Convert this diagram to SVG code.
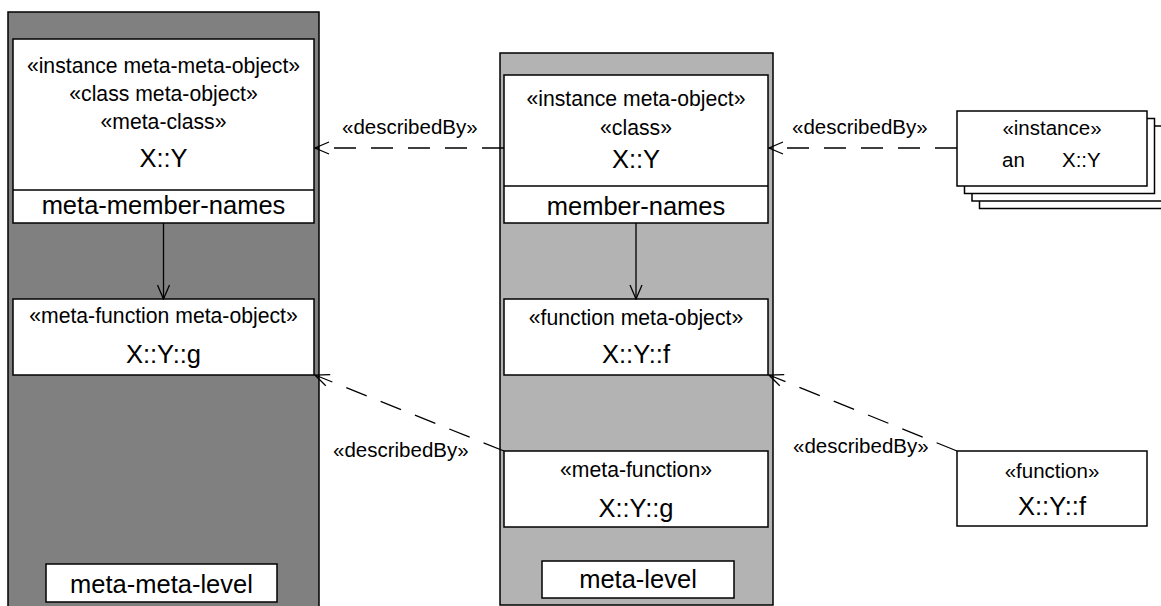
<svg xmlns="http://www.w3.org/2000/svg" width="1161" height="606" viewBox="0 0 1161 606">
<defs>
<style>
.box{fill:#fff;stroke:#000;stroke-width:1.5}
.st{font-family:"Liberation Sans",Arial,sans-serif;font-size:21.2px;text-anchor:middle;fill:#000}
.nm{font-family:"Liberation Sans",Arial,sans-serif;font-size:25.5px;text-anchor:middle;fill:#000}
.lbl{font-family:"Liberation Sans",Arial,sans-serif;font-size:20.5px;fill:#000}
.dep{fill:none;stroke:#000;stroke-width:1.3;stroke-dasharray:22,15}
.ln{fill:none;stroke:#000;stroke-width:1.3}
</style>
<marker id="open" viewBox="0 0 16 14" markerWidth="16" markerHeight="14" refX="15" refY="7" orient="auto" markerUnits="userSpaceOnUse">
<path d="M1,1 L15,7 L1,13" fill="none" stroke="#000" stroke-width="1.3"/>
</marker>
</defs>
<rect width="1161" height="606" fill="#fff"/>

<g id="meta-meta-level-panel">
<rect x="8" y="12" width="311" height="600" fill="#808080" stroke="#000" stroke-width="1.5"/>
</g>
<g id="meta-level-panel">
<rect x="500" y="53" width="273" height="552" fill="#b3b3b3" stroke="#000" stroke-width="1.5"/>
</g>

<g id="meta-class">
<rect class="box" x="13" y="39" width="301" height="184"/>
<line x1="13" y1="190" x2="314" y2="190" stroke="#000" stroke-width="1.5"/>
<text class="st" x="163.5" y="73">«instance meta-meta-object»</text>
<text class="st" x="163.5" y="101">«class meta-object»</text>
<text class="st" x="163.5" y="129">«meta-class»</text>
<text class="nm" x="163.5" y="167">X::Y</text>
<text class="nm" x="163.5" y="214">meta-member-names</text>
</g>

<g id="meta-function-meta-object">
<rect class="box" x="13" y="299" width="301" height="76"/>
<text class="st" x="163.5" y="323">«meta-function meta-object»</text>
<text class="nm" x="163.5" y="363">X::Y::g</text>
</g>

<g id="meta-meta-level-label">
<rect class="box" x="46" y="564" width="231" height="38"/>
<text class="nm" x="161.5" y="593">meta-meta-level</text>
</g>

<g id="class-meta-object">
<rect class="box" x="504" y="75" width="264" height="148"/>
<line x1="504" y1="186" x2="768" y2="186" stroke="#000" stroke-width="1.5"/>
<text class="st" x="636" y="106">«instance meta-object»</text>
<text class="st" x="636" y="135">«class»</text>
<text class="nm" x="636" y="168">X::Y</text>
<text class="nm" x="636" y="215">member-names</text>
</g>

<g id="function-meta-object">
<rect class="box" x="504" y="299" width="264" height="76"/>
<text class="st" x="636" y="325">«function meta-object»</text>
<text class="nm" x="636" y="363">X::Y::f</text>
</g>

<g id="meta-function">
<rect class="box" x="504" y="451" width="264" height="76"/>
<text class="st" x="636" y="477">«meta-function»</text>
<text class="nm" x="636" y="517">X::Y::g</text>
</g>

<g id="meta-level-label">
<rect class="box" x="542" y="561" width="192" height="37"/>
<text class="nm" x="638" y="588">meta-level</text>
</g>

<g id="instances">
<rect class="box" x="979.5" y="133.5" width="190" height="75"/>
<rect class="box" x="972" y="126" width="190" height="75"/>
<rect class="box" x="964.5" y="118.5" width="190" height="75"/>
<rect class="box" x="957" y="111" width="190" height="75"/>
<text class="lbl" x="1052" y="135" text-anchor="middle">«instance»</text>
<text class="lbl" x="1002" y="167">an</text>
<text class="lbl" x="1062" y="167">X::Y</text>
</g>

<g id="function">
<rect class="box" x="957" y="451" width="190" height="75"/>
<text class="lbl" x="1052" y="478" text-anchor="middle">«function»</text>
<text class="nm" x="1052" y="515">X::Y::f</text>
</g>

<g id="connectors">
<path class="dep" d="M504,148 L315,148" marker-end="url(#open)"/>
<path class="dep" d="M957,148 L769,148" marker-end="url(#open)"/>
<path class="dep" d="M504,451 L315,375" marker-end="url(#open)"/>
<path class="dep" d="M957,451 L769,375" marker-end="url(#open)"/>
<path class="ln" d="M163.5,223 L163.5,299" marker-end="url(#open)"/>
<path class="ln" d="M636,223 L636,299" marker-end="url(#open)"/>
<text class="lbl" x="342" y="134">«describedBy»</text>
<text class="lbl" x="792" y="134">«describedBy»</text>
<text class="lbl" x="333" y="457">«describedBy»</text>
<text class="lbl" x="793" y="453">«describedBy»</text>
</g>
</svg>
